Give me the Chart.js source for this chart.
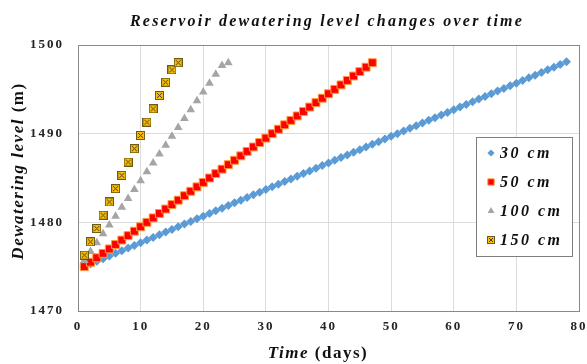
<!DOCTYPE html>
<html>
<head>
<meta charset="utf-8">
<script src="https://cdn.jsdelivr.net/npm/chart.js@4/dist/chart.umd.min.js"></script>
<style>
  body { margin: 0; background: #fff; }
  canvas { display: block; }
</style>
</head>
<body>
<canvas id="chart" width="587" height="364"></canvas>
<script>
// Tage (x-Werte)
const days = [
  1, 2, 3, 4, 5, 6, 7, 8, 9, 10, 11, 12, 13, 14, 15, 16, 17, 18, 19, 20,
  21, 22, 23, 24, 25, 26, 27, 28, 29, 30, 31, 32, 33, 34, 35, 36, 37, 38, 39, 40,
  41, 42, 43, 44, 45, 46, 47, 48, 49, 50, 51, 52, 53, 54, 55, 56, 57, 58, 59, 60,
  61, 62, 63, 64, 65, 66, 67, 68, 69, 70, 71, 72, 73, 74, 75, 76, 77, 78
];

// Wasserstand (m) je Absenkrate
const level30 = [
  1475.0, 1475.3, 1475.6, 1475.9, 1476.2, 1476.5, 1476.8, 1477.1, 1477.4, 1477.7,
  1478.0, 1478.3, 1478.6, 1478.9, 1479.2, 1479.5, 1479.8, 1480.1, 1480.4, 1480.7,
  1481.0, 1481.3, 1481.6, 1481.9, 1482.2, 1482.5, 1482.8, 1483.1, 1483.4, 1483.7,
  1484.0, 1484.3, 1484.6, 1484.9, 1485.2, 1485.5, 1485.8, 1486.1, 1486.4, 1486.7,
  1487.0, 1487.3, 1487.6, 1487.9, 1488.2, 1488.5, 1488.8, 1489.1, 1489.4, 1489.7,
  1490.0, 1490.3, 1490.6, 1490.9, 1491.2, 1491.5, 1491.8, 1492.1, 1492.4, 1492.7,
  1493.0, 1493.3, 1493.6, 1493.9, 1494.2, 1494.5, 1494.8, 1495.1, 1495.4, 1495.7,
  1496.0, 1496.3, 1496.6, 1496.9, 1497.2, 1497.5, 1497.8, 1498.1
];
const level50 = [
  1475.0, 1475.5, 1476.0, 1476.5, 1477.0, 1477.5, 1478.0, 1478.5, 1479.0, 1479.5,
  1480.0, 1480.5, 1481.0, 1481.5, 1482.0, 1482.5, 1483.0, 1483.5, 1484.0, 1484.5,
  1485.0, 1485.5, 1486.0, 1486.5, 1487.0, 1487.5, 1488.0, 1488.5, 1489.0, 1489.5,
  1490.0, 1490.5, 1491.0, 1491.5, 1492.0, 1492.5, 1493.0, 1493.5, 1494.0, 1494.5,
  1495.0, 1495.5, 1496.0, 1496.5, 1497.0, 1497.5, 1498.0
];
const level100 = [
  1475.7, 1476.7, 1477.7, 1478.7, 1479.7, 1480.7, 1481.7, 1482.7, 1483.7, 1484.7,
  1485.7, 1486.7, 1487.7, 1488.7, 1489.7, 1490.7, 1491.7, 1492.7, 1493.7, 1494.7,
  1495.7, 1496.7, 1497.7, 1498.0
];
const level150 = [
  1476.3, 1477.8, 1479.3, 1480.8, 1482.3, 1483.8, 1485.3, 1486.8, 1488.3, 1489.8,
  1491.3, 1492.8, 1494.3, 1495.8, 1497.2, 1498.0
];

const seriesLabels = ['30 cm', '50 cm', '100 cm', '150 cm'];
const xTicks = [0, 10, 20, 30, 40, 50, 60, 70, 80];
const yTicks = [1470, 1480, 1490, 1500];

const SERIF = '"Liberation Serif", "DejaVu Serif", serif';

// x/y Paare bauen
function toPoints(values) {
  return values.map((v, i) => ({ x: days[i], y: v }));
}

// Marker fuer 150 cm: goldenes Quadrat mit Kreuz
function makeCrossBox(size) {
  const c = document.createElement('canvas');
  c.width = size; c.height = size;
  const g = c.getContext('2d');
  g.fillStyle = '#FFC000';
  g.fillRect(0, 0, size, size);
  g.strokeStyle = '#6b5a1a';
  g.lineWidth = 1;
  g.strokeRect(0.5, 0.5, size - 1, size - 1);
  g.beginPath();
  g.moveTo(2, 2); g.lineTo(size - 2, size - 2);
  g.moveTo(size - 2, 2); g.lineTo(2, size - 2);
  g.strokeStyle = '#3d3a2a';
  g.stroke();
  return c;
}
const crossBox = makeCrossBox(9);
const crossBoxSmall = makeCrossBox(8);

// Buchstabenabstand fuer Achsenbeschriftungen
const spacingPlugin = {
  id: 'spacing',
  beforeLayout(chart) { chart.ctx.letterSpacing = '2px'; },
  beforeDraw(chart) { chart.ctx.letterSpacing = '2px'; }
};

// Titel, Achsentitel und Legende selbst zeichnen (gemischte Schriftstile)
const textPlugin = {
  id: 'texts',
  afterDraw(chart) {
    const ctx = chart.ctx;
    ctx.save();
    ctx.fillStyle = '#111';

    // Titel
    ctx.letterSpacing = '2.2px';
    ctx.font = 'italic bold 16px ' + SERIF;
    ctx.textAlign = 'center';
    ctx.textBaseline = 'alphabetic';
    ctx.fillText('Reservoir dewatering level changes over time', 327, 26);

    // x-Achsentitel
    ctx.letterSpacing = '1.5px';
    ctx.textAlign = 'left';
    const partA = 'Time ', partB = '(days)';
    ctx.font = 'italic bold 17px ' + SERIF;
    const wA = ctx.measureText(partA).width;
    ctx.font = 'bold 17px ' + SERIF;
    const wB = ctx.measureText(partB).width;
    let x0 = 318 - (wA + wB) / 2;
    ctx.font = 'italic bold 17px ' + SERIF;
    ctx.fillText(partA, x0, 358);
    ctx.font = 'bold 17px ' + SERIF;
    ctx.fillText(partB, x0 + wA, 358);

    // y-Achsentitel
    ctx.save();
    ctx.translate(23, 171);
    ctx.rotate(-Math.PI / 2);
    const pA = 'Dewatering level ', pB = '(m)';
    ctx.font = 'italic bold 17px ' + SERIF;
    const wa = ctx.measureText(pA).width;
    ctx.font = 'bold 17px ' + SERIF;
    const wb = ctx.measureText(pB).width;
    x0 = -(wa + wb) / 2;
    ctx.font = 'italic bold 17px ' + SERIF;
    ctx.fillText(pA, x0, 0);
    ctx.font = 'bold 17px ' + SERIF;
    ctx.fillText(pB, x0 + wa, 0);
    ctx.restore();

    // Legende
    ctx.fillStyle = '#fff';
    ctx.fillRect(476, 137, 97, 120);
    ctx.strokeStyle = '#7f7f7f';
    ctx.lineWidth = 1;
    ctx.strokeRect(476.5, 137.5, 96, 119);
    const rowY = [153, 182, 211, 240];
    chart.data.datasets.forEach((ds, i) => {
      ctx.fillStyle = ds.pointBackgroundColor;
      ctx.strokeStyle = ds.pointBorderColor;
      ctx.lineWidth = ds.pointBorderWidth;
      const style = ds.pointStyle === crossBox ? crossBoxSmall : ds.pointStyle;
      Chart.helpers.drawPoint(ctx, {
        pointStyle: style,
        rotation: 0,
        radius: ds.pointRadius * 0.8,
        borderWidth: ds.pointBorderWidth
      }, 491, rowY[i]);
      ctx.fillStyle = '#111';
      ctx.letterSpacing = '2.5px';
      ctx.font = 'italic bold 16px ' + SERIF;
      ctx.textAlign = 'left';
      ctx.textBaseline = 'middle';
      ctx.fillText(seriesLabels[i], 500, rowY[i] + 1);
    });

    ctx.restore();
  }
};

const ctx = document.getElementById('chart').getContext('2d');
new Chart(ctx, {
  type: 'scatter',
  data: {
    datasets: [
      {
        label: seriesLabels[0],
        data: toPoints(level30),
        pointStyle: 'rectRot',
        pointRadius: 4.5,
        pointBackgroundColor: '#5B9BD5',
        pointBorderColor: '#5B9BD5',
        pointBorderWidth: 0,
        order: 4
      },
      {
        label: seriesLabels[1],
        data: toPoints(level50),
        pointStyle: 'rect',
        pointRadius: 5.6,
        pointBackgroundColor: '#FF0000',
        pointBorderColor: '#FF9a3c',
        pointBorderWidth: 1,
        order: 3
      },
      {
        label: seriesLabels[2],
        data: toPoints(level100),
        pointStyle: 'triangle',
        pointRadius: 5,
        pointBackgroundColor: '#A5A5A5',
        pointBorderColor: '#A5A5A5',
        pointBorderWidth: 0,
        order: 2
      },
      {
        label: seriesLabels[3],
        data: toPoints(level150),
        pointStyle: crossBox,
        pointRadius: 5,
        pointBackgroundColor: '#FFC000',
        pointBorderColor: '#6b5a1a',
        pointBorderWidth: 1,
        order: 1
      }
    ]
  },
  options: {
    responsive: false,
    animation: false,
    events: [],
    layout: { padding: { top: 45, right: 8, left: 0, bottom: 0 } },
    plugins: {
      legend: { display: false },
      title: { display: false },
      tooltip: { enabled: false }
    },
    scales: {
      x: {
        type: 'linear',
        min: xTicks[0],
        max: xTicks[xTicks.length - 1],
        afterBuildTicks: (scale) => { scale.ticks = xTicks.map(v => ({ value: v })); },
        afterFit: (scale) => {
          scale.height = 53;
          scale.paddingLeft = 0;
          scale.paddingRight = 0;
        },
        grid: {
          drawTicks: false,
          color: (c) => (c.tick && c.tick.value === 80 ? '#898989' : '#dcdcdc')
        },
        border: { color: '#898989', width: 1 },
        ticks: {
          padding: 8,
          color: '#222',
          font: { family: SERIF, weight: 'bold', size: 13 },
          callback: (v) => String(v)
        }
      },
      y: {
        type: 'linear',
        min: yTicks[0],
        max: yTicks[yTicks.length - 1],
        afterBuildTicks: (scale) => { scale.ticks = yTicks.map(v => ({ value: v })); },
        afterFit: (scale) => {
          scale.width = 78;
          scale.paddingTop = 0;
          scale.paddingBottom = 0;
        },
        grid: {
          drawTicks: false,
          color: (c) => (c.tick && c.tick.value === 1500 ? '#898989' : '#dcdcdc')
        },
        border: { color: '#898989', width: 1 },
        ticks: {
          padding: 14,
          color: '#222',
          font: { family: SERIF, weight: 'bold', size: 13 },
          callback: (v) => String(v)
        }
      }
    }
  },
  plugins: [spacingPlugin, textPlugin]
});
</script>
</body>
</html>
